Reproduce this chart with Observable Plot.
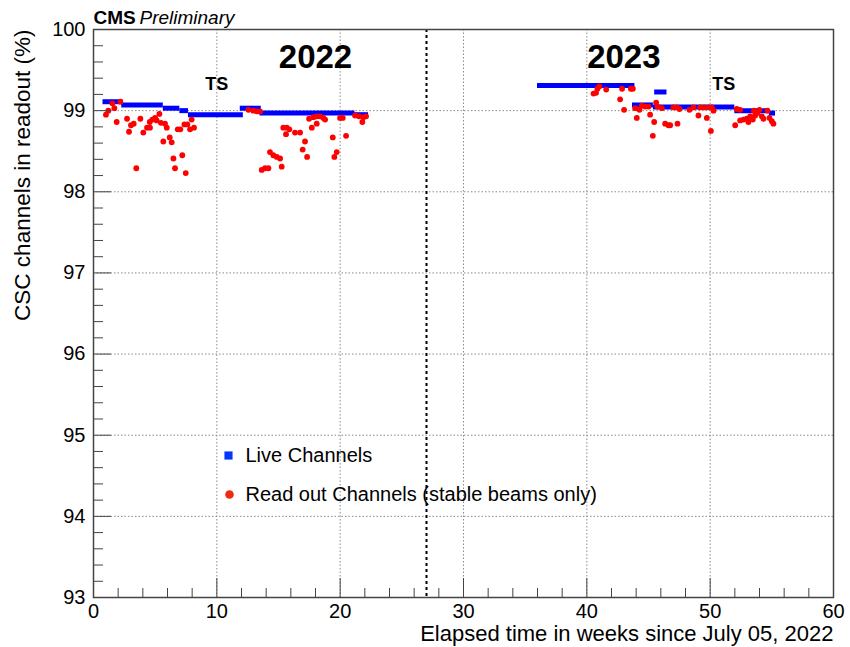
<!DOCTYPE html>
<html>
<head>
<meta charset="utf-8">
<script src="https://cdn.jsdelivr.net/npm/d3@7"></script>
<script src="https://cdn.jsdelivr.net/npm/@observablehq/plot@0.6"></script>
<style>
  html, body { margin: 0; padding: 0; background: #fff; overflow: hidden; }
  #chart svg { display: block; }
</style>
</head>
<body>
<div id="chart"></div>
<script>
// ---- Data ----
// Live channels (blue): step segments [start week, end week, percent]
const liveStart = [0.77, 2.29, 5.66, 7.0, 7.7, 11.9, 13.5, 21.07, 36.0, 43.7, 45.5, 45.4, 52.0, 54.8];
const liveEnd   = [2.39, 5.66, 7.0, 7.7, 12.15, 13.6, 21.2, 22.3, 43.9, 45.4, 46.5, 52.0, 54.8, 55.3];
const liveValue = [99.11, 99.07, 99.03, 99.0, 98.95, 99.03, 98.97, 98.95, 99.31, 99.07, 99.23, 99.045, 99.0, 98.97];

// Read out channels (red), stable beams only
const readWeeks = [
  1.01, 1.2, 1.53, 1.69, 2.18, 1.88, 2.72, 2.88, 3.04, 3.26, 3.47, 3.8, 4.04, 4.34, 4.58, 4.56, 4.77, 4.99,
  5.12, 5.34, 5.47, 5.66, 5.8, 5.94, 6.18, 6.34, 6.48, 6.61, 6.83, 7.04, 7.2, 7.48, 7.37, 7.61, 7.96, 7.83, 8.15,
  12.56, 12.96, 13.23, 13.5, 13.64, 13.91, 14.18, 14.31, 14.58, 14.86, 15.13, 15.26, 15.39, 15.67, 15.61, 15.88,
  16.34, 16.75, 17.15, 16.96, 17.32, 17.48, 17.7, 17.83, 18.1, 18.1, 18.37, 18.64, 18.78, 19.4, 19.53, 19.72,
  19.99, 20.21, 20.48, 21.21, 21.53, 21.88, 22.1, 21.8,
  40.54, 40.75, 40.86, 41.02, 41.57, 42.7, 42.86, 43.02, 43.57, 43.73, 43.92, 44.05, 44.27, 44.46, 44.73, 45.0,
  45.13, 45.46, 45.35, 45.62, 45.73, 46.08, 46.35, 46.62, 46.76, 47.02, 47.3, 47.35, 47.51,
  48.32, 48.65, 49.05, 49.19, 49.51, 49.73, 49.87, 50.14, 50.27, 50.06, 52.03, 52.16, 52.43, 52.43, 52.7, 52.97,
  53.1, 53.24, 53.46, 53.65, 53.83, 54.0, 54.19, 54.32, 54.65, 54.81, 55.0, 55.13, 53.55
];
const readValues = [
  98.95, 99.0, 99.09, 99.03, 99.11, 98.86, 98.90, 98.74, 98.82, 98.84, 98.29, 98.90, 98.73, 98.79, 98.79, 98.86, 98.89, 98.91,
  98.88, 98.96, 98.85, 98.62, 98.84, 98.79, 98.67, 98.61, 98.41, 98.29, 98.77, 98.77, 98.45, 98.23, 98.83, 98.83, 98.89, 98.77, 98.79,
  99.01, 99.0, 98.99, 98.99, 98.27, 98.29, 98.29, 98.49, 98.45, 98.43, 98.41, 98.31, 98.79, 98.79, 98.71, 98.77,
  98.73, 98.73, 98.62, 98.52, 98.43, 98.90, 98.79, 98.92, 98.93, 98.84, 98.93, 98.91, 98.89, 98.67, 98.43, 98.49,
  98.91, 98.91, 98.69, 98.94, 98.93, 98.92, 98.93, 98.86,
  99.21, 99.22, 99.27, 99.30, 99.26, 99.14, 99.27, 99.01, 99.27, 99.27, 99.03, 98.91, 99.01, 99.06, 99.05, 99.05,
  98.95, 98.86, 98.69, 99.10, 99.05, 99.03, 98.84, 98.82, 98.82, 99.04, 99.04, 98.84, 99.02,
  99.01, 99.04, 98.94, 99.04, 99.04, 98.91, 99.04, 99.04, 99.0, 98.75, 98.82, 99.02, 99.01, 98.88, 98.89, 98.90,
  98.86, 98.93, 98.89, 98.94, 98.97, 99.01, 98.93, 98.90, 99.0, 98.91, 98.87, 98.84, 99.0
];

// Year separator and annotations (data units)
const yearBoundary = 27;
const annoText  = ["2022", "2023", "TS", "TS"];
const annoWeek  = [18.0, 43.0, 10.0, 51.1];
const annoValue = [99.65, 99.65, 99.32, 99.32];
const annoSize  = [33, 33, 18, 18];

// Ticks
const xTicks = [0, 10, 20, 30, 40, 50, 60];
const yTicks = [93, 94, 95, 96, 97, 98, 99, 100];
const xMinor = d3.range(0, 61, 2).filter(d => d % 10 !== 0);
const yMinor = d3.range(0, 36).filter(i => i % 5 !== 0).map(i => 93 + i * 0.2);

const legendLabels = ["Live Channels", "Read out Channels (stable beams only)"];

// ---- Build tables ----
const live = liveStart.map((s, i) => ({s, e: liveEnd[i], v: liveValue[i]}));
const read = readWeeks.map((w, i) => ({w, v: readValues[i]}));
const anno = annoText.map((t, i) => ({t, w: annoWeek[i], v: annoValue[i], size: annoSize[i]}));

const BLUE = "#0000ff";
const RED = "#ff0000";
const FONT = "'Liberation Sans', Arial, Helvetica, sans-serif";
const gridStyle = {stroke: "#8a8a8a", strokeOpacity: 1, strokeWidth: 1, strokeDasharray: "1.5,2"};

const chart = Plot.plot({
  width: 850,
  height: 647,
  marginLeft: 93,
  marginRight: 17,
  marginTop: 29,
  marginBottom: 50,
  style: {fontFamily: FONT, background: "#fff", color: "#000"},
  x: {domain: [0, 60]},
  y: {domain: [93, 100]},
  marks: [
    Plot.gridX(xTicks.slice(1, -1), gridStyle),
    Plot.gridY(yTicks.slice(1, -1), gridStyle),
    Plot.ruleX([yearBoundary], {stroke: "#000", strokeWidth: 2, strokeDasharray: "3,3"}),
    Plot.ruleY(live, {y: "v", x1: "s", x2: "e", stroke: BLUE, strokeWidth: 5, strokeLinecap: "butt"}),
    Plot.dot(read, {x: "w", y: "v", r: 2.9, fill: RED, stroke: "none"}),
    // annotations
    Plot.text(anno, {x: "w", y: "v", text: "t", fontSize: d => d.size, fontWeight: "bold", fill: "#000", lineAnchor: "middle"}),
    // tick labels
    Plot.axisX({ticks: xTicks, tickSize: 0, tickPadding: 6, fontSize: 20, label: null, tickFormat: d => String(d)}),
    Plot.axisY({ticks: yTicks, tickSize: 0, tickPadding: 8, fontSize: 20, label: null, tickFormat: d => String(d)}),
    // inward ticks
    Plot.axisX({ticks: xTicks, tickSize: -19, tickFormat: () => "", label: null, stroke: "#444"}),
    Plot.axisX({ticks: xMinor, tickSize: -9, tickFormat: () => "", label: null, stroke: "#444"}),
    Plot.axisY({ticks: yTicks, tickSize: -18, tickFormat: () => "", label: null, stroke: "#444"}),
    Plot.axisY({ticks: yMinor, tickSize: -10, tickFormat: () => "", label: null, stroke: "#444"}),
    Plot.frame({stroke: "#444", strokeWidth: 1.5}),
    // axis titles
    Plot.text(["CSC channels in readout (%)"], {frameAnchor: "top-left", dx: -71, dy: 0, rotate: -90, textAnchor: "end", lineAnchor: "middle", fontSize: 22.5, fill: "#000"}),
    Plot.text(["Elapsed time in weeks since July 05, 2022"], {frameAnchor: "bottom-right", dy: 36, textAnchor: "end", lineAnchor: "middle", fontSize: 22, fill: "#000"}),
    // CMS Preliminary
    Plot.text(["CMS"], {frameAnchor: "top-left", dy: -12, textAnchor: "start", lineAnchor: "middle", fontSize: 19, fontWeight: "bold", fill: "#000"}),
    Plot.text(["Preliminary"], {frameAnchor: "top-left", dx: 46, dy: -12, textAnchor: "start", lineAnchor: "middle", fontSize: 19, fontStyle: "italic", fill: "#000"}),
    // legend
    Plot.dot([0], {frameAnchor: "top-left", dx: 135, dy: 426, symbol: "square", r: 4.6, fill: "#0038ff", stroke: "none"}),
    Plot.dot([0], {frameAnchor: "top-left", dx: 136, dy: 465, symbol: "circle", r: 4.3, fill: "#ee2a10", stroke: "none"}),
    Plot.text([legendLabels[0]], {frameAnchor: "top-left", dx: 152, dy: 426, textAnchor: "start", lineAnchor: "middle", fontSize: 20, fill: "#000"}),
    Plot.text([legendLabels[1]], {frameAnchor: "top-left", dx: 152, dy: 465, textAnchor: "start", lineAnchor: "middle", fontSize: 20, fill: "#000"})
  ]
});
document.getElementById("chart").append(chart);
</script>
</body>
</html>
